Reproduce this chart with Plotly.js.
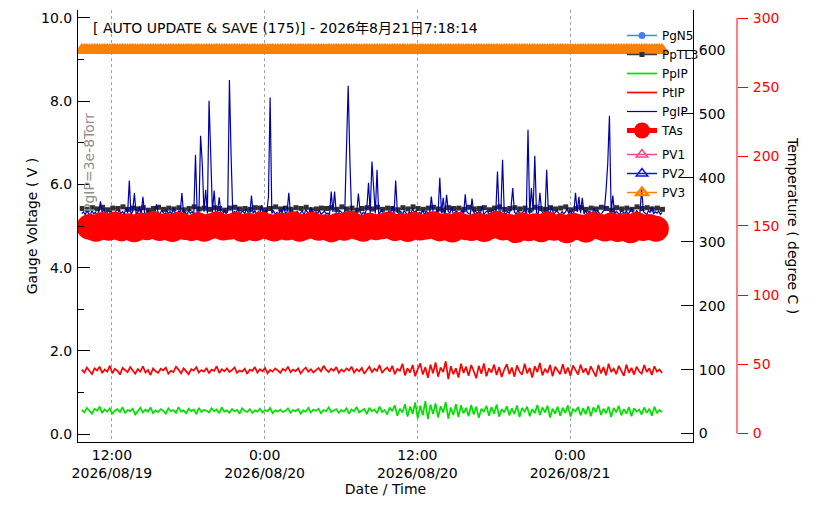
<!DOCTYPE html>
<html>
<head>
<meta charset="utf-8">
<script src="https://cdn.plot.ly/plotly-3.0.1.min.js"></script>
<style>
  html, body { margin: 0; padding: 0; background: #fff; }
  #chart { width: 816px; height: 506px; }
</style>
</head>
<body>
<div id="chart"></div>
<script>
  // sample start times and intervals (ms)
  var fastStart = "2026-08-19 09:38:00";
  var fastStep = 12 * 60000;
  var gaugeStep = 8 * 60000;
  var slowStart = "2026-08-19 09:40:00";
  var slowStep = 24 * 60000;
  var tasStart = "2026-08-19 10:15:00";
  var tasStep = 30 * 60000;

  var tickTimes = ["2026-08-19 12:00", "2026-08-20 00:00", "2026-08-20 12:00", "2026-08-21 00:00"];
  var tickLabels = ["12:00<br>2026/08/19", "0:00<br>2026/08/20", "12:00<br>2026/08/20", "0:00<br>2026/08/21"];

  // PgIP gauge voltage (V), every 8 min
  var pgIP = [
    5.30,5.34,5.27,5.36,5.31,5.25,5.38,5.29,5.33,5.26,
    5.35,5.59,5.30,5.42,5.28,5.32,5.24,5.37,5.31,5.29,
    5.34,5.27,5.39,5.30,5.35,5.28,5.44,5.31,6.09,5.25,
    5.36,5.79,5.29,5.33,5.47,5.27,5.70,5.32,5.26,5.38,
    5.30,5.34,5.29,5.36,5.52,5.31,5.28,5.37,5.33,5.25,
    5.39,5.30,5.35,5.28,5.43,5.31,5.27,5.36,5.34,5.79,
    5.29,5.33,5.26,5.38,5.30,5.35,5.28,6.71,5.32,5.27,
    7.17,6.51,5.34,5.87,5.30,8.01,6.69,5.33,5.85,5.29,
    5.36,5.69,5.31,5.26,5.38,5.30,5.34,8.51,6.67,5.28,
    5.35,5.31,5.45,5.27,5.33,5.36,5.29,5.41,5.32,5.26,
    5.73,5.30,5.37,5.28,5.34,5.31,5.50,5.27,5.35,5.33,
    5.69,8.09,5.30,5.36,5.28,5.33,5.26,5.39,5.31,5.48,
    5.29,5.34,5.80,5.30,5.37,5.27,5.32,5.35,5.28,5.31,
    5.36,5.26,5.40,5.33,5.29,5.45,5.31,5.27,5.34,5.30,
    5.38,5.28,5.33,5.36,5.29,5.31,5.26,5.83,5.34,5.83,
    5.30,5.27,5.37,5.32,5.29,5.35,6.81,8.37,6.59,5.31,
    5.28,5.34,5.30,5.78,5.36,5.27,5.33,5.29,5.44,6.04,
    5.31,6.55,5.93,5.30,6.35,5.28,5.34,5.38,5.26,5.32,
    5.29,5.36,5.31,5.47,5.27,6.09,5.33,5.30,5.35,5.28,
    5.37,5.31,5.26,5.34,5.29,5.42,5.32,5.36,5.28,5.33,
    5.30,5.38,5.27,5.35,5.31,5.29,5.71,5.34,5.26,5.37,
    5.32,6.16,5.30,5.68,5.28,5.75,5.35,5.31,5.46,5.27,
    5.33,5.36,5.29,5.31,5.38,5.26,5.76,5.34,5.30,5.28,
    5.66,5.32,5.37,5.29,5.35,5.31,5.49,5.27,5.33,5.36,
    5.30,5.28,5.39,5.34,5.31,6.31,5.29,5.36,6.59,5.32,
    5.27,5.35,5.30,5.45,5.91,5.33,5.29,5.37,5.31,5.26,
    5.34,5.38,5.30,7.31,5.28,5.91,5.35,6.69,5.32,5.29,
    5.80,5.36,5.31,5.27,6.35,5.33,5.30,5.47,5.28,5.34,
    5.37,5.31,5.26,5.35,5.29,5.33,5.42,5.30,5.36,5.28,
    5.32,5.80,5.34,5.70,5.31,5.68,5.29,5.37,5.27,5.35,
    5.33,5.30,5.44,5.28,5.36,5.31,5.26,5.34,5.38,5.85,
    6.50,7.65,5.32,5.73,5.29,5.35,5.31,5.27,5.37,5.33,
    5.30,5.36,5.28,5.34,5.42,5.31,5.26,5.38,5.29,5.33,
    5.90,5.35,5.30,5.27,5.37,5.32,5.46,5.29,5.34,5.31,
    5.36,5.28,5.33
  ];

  // PtIP (V), every 12 min
  var ptIP = [
    1.55,1.48,1.60,1.51,1.44,1.58,1.53,1.62,1.47,1.55,
    1.50,1.64,1.46,1.57,1.52,1.43,1.59,1.54,1.49,1.61,
    1.52,1.45,1.56,1.50,1.63,1.48,1.54,1.42,1.58,1.51,
    1.47,1.57,1.53,1.60,1.45,1.52,1.49,1.62,1.55,1.46,
    1.58,1.51,1.44,1.56,1.53,1.61,1.48,1.54,1.50,1.59,
    1.46,1.55,1.52,1.63,1.47,1.56,1.51,1.58,1.49,1.54,
    1.60,1.47,1.53,1.50,1.57,1.45,1.55,1.52,1.61,1.48,
    1.56,1.51,1.59,1.46,1.54,1.50,1.58,1.53,1.47,1.57,
    1.52,1.62,1.49,1.55,1.51,1.58,1.46,1.54,1.60,1.50,
    1.56,1.48,1.53,1.59,1.51,1.64,1.55,1.49,1.57,1.52,
    1.61,1.47,1.55,1.50,1.58,1.53,1.62,1.48,1.56,1.51,
    1.59,1.45,1.54,1.62,1.49,1.57,1.52,1.66,1.47,1.55,
    1.60,1.50,1.64,1.44,1.57,1.52,1.69,1.41,1.58,1.48,
    1.66,1.39,1.56,1.70,1.43,1.61,1.35,1.67,1.46,1.72,
    1.38,1.60,1.49,1.75,1.32,1.63,1.44,1.58,1.36,1.69,
    1.47,1.62,1.40,1.66,1.51,1.34,1.64,1.45,1.70,1.39,
    1.58,1.48,1.67,1.42,1.61,1.37,1.55,1.68,1.44,1.60,
    1.38,1.65,1.50,1.43,1.69,1.46,1.59,1.36,1.63,1.49,
    1.71,1.41,1.57,1.47,1.66,1.39,1.62,1.52,1.44,1.68,
    1.45,1.60,1.40,1.65,1.53,1.43,1.67,1.48,1.58,1.42,
    1.63,1.50,1.38,1.66,1.46,1.61,1.41,1.69,1.49,1.57,
    1.44,1.64,1.52,1.40,1.67,1.47,1.59,1.43,1.62,1.51,
    1.45,1.66,1.49,1.58,1.42,1.63,1.50,1.55,1.47
  ];

  // PpIP (V), every 12 min
  var ppIP = [
    0.58,0.52,0.63,0.55,0.49,0.61,0.56,0.66,0.51,0.59,
    0.54,0.62,0.48,0.57,0.60,0.53,0.65,0.50,0.58,0.55,
    0.61,0.47,0.56,0.63,0.52,0.59,0.54,0.64,0.50,0.57,
    0.53,0.60,0.56,0.49,0.62,0.55,0.58,0.51,0.65,0.54,
    0.57,0.50,0.61,0.55,0.59,0.48,0.63,0.53,0.58,0.56,
    0.52,0.62,0.55,0.59,0.50,0.64,0.54,0.57,0.51,0.60,
    0.55,0.58,0.49,0.62,0.56,0.53,0.60,0.51,0.57,0.54,
    0.61,0.52,0.58,0.55,0.63,0.50,0.57,0.54,0.59,0.53,
    0.56,0.62,0.51,0.58,0.55,0.60,0.49,0.57,0.54,0.63,
    0.52,0.59,0.56,0.61,0.50,0.58,0.55,0.64,0.53,0.57,
    0.60,0.51,0.58,0.54,0.62,0.49,0.59,0.55,0.65,0.52,
    0.57,0.61,0.48,0.63,0.55,0.59,0.50,0.66,0.53,0.58,
    0.47,0.64,0.55,0.69,0.44,0.61,0.52,0.72,0.42,0.66,
    0.49,0.76,0.38,0.68,0.45,0.79,0.36,0.71,0.48,0.74,
    0.40,0.67,0.52,0.77,0.37,0.64,0.46,0.72,0.41,0.69,
    0.50,0.63,0.43,0.70,0.47,0.66,0.39,0.61,0.53,0.68,
    0.44,0.65,0.49,0.71,0.42,0.60,0.52,0.67,0.45,0.62,
    0.48,0.69,0.41,0.63,0.54,0.66,0.43,0.60,0.50,0.70,
    0.46,0.64,0.52,0.68,0.40,0.61,0.49,0.66,0.44,0.63,
    0.51,0.69,0.42,0.60,0.55,0.65,0.45,0.62,0.48,0.67,
    0.43,0.64,0.53,0.70,0.46,0.61,0.50,0.66,0.41,0.63,
    0.52,0.68,0.45,0.60,0.49,0.65,0.43,0.62,0.54,0.59,
    0.47,0.64,0.51,0.61,0.44,0.66,0.50,0.58,0.53
  ];

  // PpTL3 (V), every 24 min
  var ppTL3 = [
    5.42,5.40,5.44,5.41,5.45,5.39,5.43,5.42,5.46,5.40,
    5.43,5.41,5.44,5.38,5.42,5.45,5.40,5.43,5.41,5.44,
    5.39,5.42,5.46,5.41,5.43,5.40,5.44,5.42,5.38,5.43,
    5.45,5.41,5.42,5.40,5.44,5.43,5.39,5.42,5.46,5.41,
    5.43,5.40,5.44,5.42,5.45,5.39,5.41,5.43,5.42,5.44,
    5.40,5.46,5.41,5.43,5.38,5.42,5.44,5.41,5.45,5.40,
    5.43,5.42,5.39,5.44,5.41,5.46,5.42,5.40,5.43,5.45,
    5.41,5.38,5.44,5.42,5.43,5.40,5.45,5.41,5.42,5.44,
    5.39,5.43,5.46,5.40,5.42,5.44,5.41,5.43,5.38,5.45,
    5.42,5.40,5.44,5.41,5.43,5.46,5.39,5.42,5.44,5.40,
    5.43,5.41,5.45,5.42,5.38,5.44,5.41,5.43,5.40,5.46,
    5.42,5.44,5.41,5.43,5.40
  ];

  // PV3 on the right black scale, every 12 min
  var pv3 = [
    600,600,600,600,600,600,600,600,600,600,600,600,600,600,600,600,600,600,600,600,
    600,600,600,600,600,600,600,600,600,600,600,600,600,600,600,600,600,600,600,600,
    600,600,600,600,600,600,600,600,600,600,600,600,600,600,600,600,600,600,600,600,
    600,600,600,600,600,600,600,600,600,600,600,600,600,600,600,600,600,600,600,600,
    600,600,600,600,600,600,600,600,600,600,600,600,600,600,600,600,600,600,600,600,
    600,600,600,600,600,600,600,600,600,600,600,600,600,600,600,600,600,600,600,600,
    600,600,600,600,600,600,600,600,600,600,600,600,600,600,600,600,600,600,600,600,
    600,600,600,600,600,600,600,600,600,600,600,600,600,600,600,600,600,600,600,600,
    600,600,600,600,600,600,600,600,600,600,600,600,600,600,600,600,600,600,600,600,
    600,600,600,600,600,600,600,600,600,600,600,600,600,600,600,600,600,600,600,600,
    600,600,600,600,600,600,600,600,600,600,600,600,600,600,600,600,600,600,600,600,
    600,600,600,600,600,600,600,600,600
  ];

  // no readings shown for these
  var pgN5 = [null];
  var pv1 = [null];
  var pv2 = [null];

  // TAs temperature (degree C), every 30 min
  var tAs = [
    149.2,147.8,150.5,148.6,151.0,148.1,149.7,147.5,150.2,148.9,
    151.3,148.4,149.9,147.7,150.8,149.1,148.3,150.4,147.9,149.6,
    151.1,148.7,149.3,150.6,147.6,149.8,148.2,150.9,149.4,148.0,
    150.3,148.8,151.2,147.9,149.5,150.7,148.5,149.0,147.4,150.1,
    148.6,151.4,149.2,147.8,150.0,148.9,149.7,151.0,148.3,149.9,
    147.6,150.5,148.7,149.4,151.1,148.1,149.8,147.3,150.6,149.0,
    148.4,150.2,147.7,149.6,151.3,148.8,149.1,146.9,150.4,148.2,
    149.7,147.5,150.9,148.6,149.3,146.8,150.1,148.9,147.2,150.7,
    149.5,148.0,150.3,147.6,149.8,146.7,150.5,148.4,149.2,147.9
  ];

  var font = '"DejaVu Sans", "Noto Sans CJK JP", sans-serif';

  var traces = [
    {name: "PgN5", y: pgN5, x0: fastStart, dx: fastStep, mode: "lines+markers", legendgroup: "a",
     line: {color: "#4a7cf4", width: 1.5}, marker: {symbol: "circle", size: 7, color: "#4a7cf4"}},
    {name: "PpTL3", y: ppTL3, x0: slowStart, dx: slowStep, mode: "lines+markers", legendgroup: "a",
     line: {color: "#383838", width: 1.5}, marker: {symbol: "square", size: 5, color: "#303030"}},
    {name: "PpIP", y: ppIP, x0: fastStart, dx: fastStep, mode: "lines", legendgroup: "a",
     line: {color: "#00e000", width: 1.7}},
    {name: "PtIP", y: ptIP, x0: fastStart, dx: fastStep, mode: "lines", legendgroup: "a",
     line: {color: "#ff0000", width: 1.7}},
    {name: "PgIP", y: pgIP, x0: fastStart, dx: gaugeStep, mode: "lines", legendgroup: "a",
     line: {color: "#0000a8", width: 1.2}},
    {name: "TAs", y: tAs, x0: tasStart, dx: tasStep, yaxis: "y3", mode: "lines+markers", legendgroup: "a",
     line: {color: "#ff0000", width: 5}, marker: {symbol: "circle", size: 26, color: "#ff0000"}},
    {name: "PV1", y: pv1, x0: fastStart, dx: fastStep, yaxis: "y2", mode: "lines+markers", legendgroup: "b",
     line: {color: "#f04890", width: 1.5},
     marker: {symbol: "triangle-up-open", size: 10, color: "#f04890", line: {width: 1.5}}},
    {name: "PV2", y: pv2, x0: fastStart, dx: fastStep, yaxis: "y2", mode: "lines+markers", legendgroup: "b",
     line: {color: "#1010f0", width: 1.5},
     marker: {symbol: "triangle-up-open", size: 10, color: "#1010f0", line: {width: 1.5}}},
    {name: "PV3", y: pv3, x0: fastStart, dx: fastStep, yaxis: "y2", mode: "lines+markers", legendgroup: "b",
     line: {color: "#ff8000", width: 1.5},
     marker: {symbol: "triangle-up-open", size: 10, color: "#ff8000", line: {width: 2.5}}}
  ];

  var layout = {
    width: 816,
    height: 506,
    margin: {l: 78, r: 79, t: 10, b: 64},
    paper_bgcolor: "#ffffff",
    plot_bgcolor: "rgba(0,0,0,0)",
    font: {family: font, size: 14, color: "#000000"},
    showlegend: true,
    title: {
      text: "[ AUTO UPDATE &amp; SAVE (175)] - 2026年8月21日7:18:14",
      x: 93 / 816, xanchor: "left", xref: "container",
      y: 1 - 28 / 506, yanchor: "middle", yref: "container",
      font: {family: font, size: 14, color: "#000000"}
    },
    xaxis: {
      type: "date",
      domain: [0, 615 / 659],
      range: ["2026-08-19 09:20", "2026-08-21 09:40"],
      tickmode: "array",
      tickvals: tickTimes,
      ticktext: tickLabels,
      ticks: "",
      showline: true, linecolor: "#000000", linewidth: 1,
      showgrid: true, gridcolor: "#a0a0a0", griddash: "dot", gridwidth: 1,
      zeroline: false,
      tickfont: {size: 14},
      title: {text: "Date / Time", font: {size: 14}, standoff: 2}
    },
    yaxis: {
      range: [-0.19, 10.19],
      dtick: 2, tick0: 0, tickformat: ".1f",
      ticks: "inside", ticklen: 12, tickcolor: "#000000",
      minor: {dtick: 1, ticks: "inside", ticklen: 6, tickcolor: "#000000"},
      showline: true, linecolor: "#000000", linewidth: 1,
      showgrid: false, zeroline: false,
      tickfont: {size: 14},
      ticklabelstandoff: 2,
      title: {text: "Gauge Voltage ( V )", font: {size: 14}, standoff: 0}
    },
    yaxis2: {
      overlaying: "y", side: "right", anchor: "x",
      range: [-13.3, 662.7],
      dtick: 100, tick0: 0,
      ticks: "inside", ticklen: 12, tickcolor: "#000000",
      showline: true, linecolor: "#000000", linewidth: 1,
      showgrid: false, zeroline: false,
      tickfont: {size: 14},
      ticklabelstandoff: 2
    },
    yaxis3: {
      overlaying: "y", side: "right", anchor: "free", position: 1,
      range: [-6.1, 305.8],
      dtick: 50, tick0: 0,
      ticks: "outside", ticklen: 10, tickcolor: "#ff0000",
      showline: false,
      showgrid: false, zeroline: false,
      tickfont: {size: 14, color: "#ff0000"},
      ticklabelstandoff: 2
    },
    legend: {
      x: (622 - 78) / 659, xanchor: "left",
      y: (442 - 21) / 432, yanchor: "top",
      bgcolor: "rgba(0,0,0,0)",
      font: {size: 12, color: "#000000"},
      traceorder: "grouped",
      tracegroupgap: 5
    },
    shapes: [
      {type: "line", xref: "paper", yref: "y3", x0: 1, x1: 1, y0: 0, y1: 300,
       line: {color: "#ff0000", width: 1}}
    ],
    annotations: [
      {text: "PgIP=3e-8Torr", xref: "paper", yref: "paper",
       x: (89 - 78) / 659, y: (442 - 163) / 432, xanchor: "center", yanchor: "middle",
       showarrow: false, textangle: -90, font: {size: 14, color: "#909090"}},
      {text: "Temperature ( degree C )", xref: "paper", yref: "paper",
       x: (793 - 78) / 659, y: (442 - 226) / 432, xanchor: "center", yanchor: "middle",
       showarrow: false, textangle: 90, font: {size: 14, color: "#000000"}}
    ]
  };

  Plotly.newPlot("chart", traces, layout, {displayModeBar: false, staticPlot: true});
</script>
</body>
</html>
